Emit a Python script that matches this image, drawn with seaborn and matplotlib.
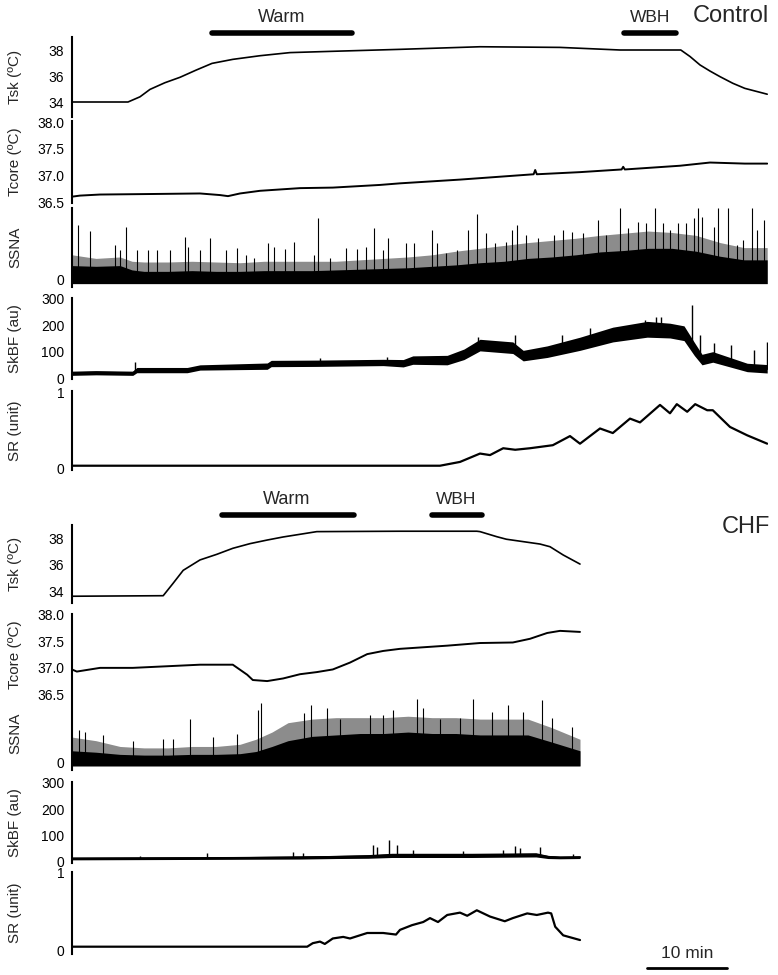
import matplotlib
matplotlib.use("Agg")
import matplotlib.pyplot as plt
import matplotlib.transforms as mtransforms
import seaborn as sns
import numpy as np

sns.set_style("white")
plt.rcParams['font.family'] = ['Liberation Sans', 'DejaVu Sans']

W, H = 778, 975
X0, X1 = 72, 768
T_END = 87.0   # minutes shown across the axis width

# ---------------- Control ----------------
ctrl_tsk_t = [0, 7, 8.5, 9.75, 11.6, 13.5, 15.5, 17.5, 20.1, 23.5, 27.25, 32.6, 41, 51, 61, 68.5,
              76.1, 77.25, 78.5, 79.75, 81, 82.6, 84.1, 86.9]
ctrl_tsk = [34.0, 34.0, 34.4, 34.97, 35.48, 35.9, 36.45, 36.97, 37.28, 37.56, 37.8, 37.9, 38.05, 38.25,
            38.2, 38.0, 38.0, 37.5, 36.85, 36.38, 35.95, 35.44, 35.05, 34.6]

ctrl_tcore_t = [0, 1, 3.5, 10, 16, 18.5, 19.5, 21, 23.5, 28.5, 32.6, 38.5, 41, 48.5, 57.7, 57.9, 58.1,
                63.5, 68.7, 68.9, 69.1, 76, 79.75, 84.1, 86.9]
ctrl_tcore = [36.6, 36.62, 36.64, 36.65, 36.66, 36.63, 36.61, 36.66, 36.71, 36.76, 36.77, 36.82, 36.85,
              36.92, 37.02, 37.1, 37.02, 37.06, 37.11, 37.16, 37.11, 37.18, 37.24, 37.22, 37.22]

ctrl_band_t = [0, 3, 6, 7.5, 9, 12, 15, 18, 21, 24, 27, 30, 33, 36, 39, 42, 45, 48, 51, 54, 57, 60,
               63, 66, 69, 72, 75, 78, 81, 84, 86.9]
ctrl_core = [20, 19, 20, 14, 12, 12, 13, 12, 12, 13, 13, 13, 14, 15, 16, 17, 19, 21, 24, 26, 30, 32,
             35, 39, 41, 44, 44, 40, 33, 28, 28]
ctrl_fringe = [35, 30, 32, 26, 25, 25, 26, 25, 24, 26, 26, 26, 26, 28, 30, 32, 35, 40, 44, 48, 52, 55,
               58, 62, 65, 68, 66, 62, 52, 45, 45]
ctrl_spk_t = [0.8, 2.3, 5.4, 6.0, 6.7, 8.1, 9.5, 10.6, 12.3, 14.1, 14.5, 16.0, 17.3, 19.3, 20.6, 21.8,
              22.7, 24.5, 25.2, 26.6, 27.8, 30.2, 30.8, 32.3, 34.2, 35.6, 36.7, 37.7, 38.9, 39.5, 41.8,
              42.7, 45.0, 45.6, 46.8, 48.1, 49.5, 50.6, 51.8, 52.9, 54.3, 55.0, 55.6, 56.8, 58.3, 60.2,
              61.4, 62.5, 63.9, 65.8, 66.8, 68.5, 69.5, 70.8, 71.8, 72.9, 73.9, 74.75, 75.8, 76.75, 77.7,
              78.3, 78.7, 80.2, 80.8, 82.0, 83.1, 83.9, 85.0, 85.6, 86.5]
ctrl_spk = [76, 68, 49, 42, 74, 42, 42, 42, 42, 60, 46, 42, 59, 42, 44, 35, 30, 52, 46, 43, 53, 35, 86,
            30, 44, 43, 46, 72, 42, 58, 51, 51, 69, 51, 37, 42, 70, 92, 65, 51, 53, 69, 76, 62, 58, 62,
            69, 67, 65, 83, 62, 100, 72, 81, 79, 100, 79, 69, 79, 79, 86, 100, 88, 74, 100, 100, 49, 56,
            100, 69, 83]

ctrl_skbf_t = [0, 3, 7.6, 8.1, 14.4, 16, 24.4, 24.9, 30.6, 38.9, 41.4, 42.6, 46.9, 49, 51, 55.1, 56.4,
               59.4, 63.5, 67.6, 71.9, 74.75, 76.5, 77.8, 78.75, 80.1, 84.4, 86.9]
ctrl_skbf = [18, 20, 18, 30, 30, 40, 45, 55, 56, 59, 56, 68, 68, 90, 125, 115, 85, 100, 130, 165, 185,
             180, 170, 110, 70, 80, 40, 35]
ctrl_skbf_hw = [8, 8, 8, 10, 10, 10, 12, 12, 12, 12, 14, 16, 18, 20, 22, 22, 20, 22, 25, 28, 30, 28, 28,
                25, 20, 20, 16, 16]
ctrl_skbf_spk_t = [7.9, 31.0, 39.4, 50.8, 55.4, 61.3, 64.8, 71.6, 73.0, 73.6, 77.5, 78.5, 80.3, 82.4,
                   85.2, 86.9]
ctrl_skbf_spk = [62, 76, 80, 157, 163, 163, 190, 220, 233, 233, 277, 163, 132, 124, 106, 138]

ctrl_sr_t = [0, 46, 48.5, 51, 52.25, 53.9, 55.4, 57.25, 60.1, 62.25, 63.5, 66, 67.6, 69.75, 71, 73.5,
             74.75, 75.6, 76.9, 77.9, 79.4, 80.1, 82.25, 84.4, 86.9]
ctrl_sr = [0.03, 0.03, 0.08, 0.19, 0.17, 0.26, 0.24, 0.26, 0.30, 0.42, 0.32, 0.52, 0.46, 0.65, 0.60,
           0.83, 0.72, 0.84, 0.74, 0.84, 0.76, 0.76, 0.54, 0.43, 0.32]

# ---------------- CHF ----------------
chf_tsk_t = [0, 11.4, 12.6, 13.9, 16, 18.1, 20.1, 22.25, 24.4, 26.4, 28.5, 30.6, 41, 50.6, 51, 53.1,
             54.3, 58.5, 59.75, 61.4, 63.5]
chf_tsk = [33.66, 33.7, 34.6, 35.6, 36.38, 36.8, 37.25, 37.6, 37.87, 38.1, 38.3, 38.5, 38.53, 38.53,
           38.5, 38.12, 37.93, 37.57, 37.37, 36.75, 36.07]

chf_tcore_t = [0, 0.6, 3.5, 7.6, 16, 20.1, 21.9, 22.6, 24.4, 26.4, 28.5, 30.6, 32.6, 34.75, 36.9, 38.9,
               41, 46.9, 51, 55.1, 57.25, 59.4, 61, 63.5]
chf_tcore = [36.97, 36.93, 37.0, 37.0, 37.06, 37.06, 36.87, 36.77, 36.75, 36.8, 36.88, 36.92, 36.97,
             37.1, 37.26, 37.32, 37.36, 37.42, 37.47, 37.48, 37.55, 37.66, 37.7, 37.68]

chf_band_t = [0, 3, 6, 9, 12, 15, 18, 21, 23, 25, 27, 30, 33, 36, 39, 42, 45, 48, 51, 54, 57, 60, 63.5]
chf_core = [16, 14, 11, 10, 10, 11, 11, 12, 15, 22, 30, 36, 38, 40, 40, 42, 40, 40, 38, 38, 38, 28, 16]
chf_fringe = [35, 30, 22, 20, 20, 22, 22, 25, 32, 42, 55, 60, 62, 62, 62, 64, 62, 62, 60, 60, 60, 48, 32]
chf_spk_t = [0.9, 1.6, 3.9, 7.6, 11.4, 12.6, 14.8, 17.6, 20.6, 23.25, 23.6, 29.0, 29.9, 31.9, 33.5,
             37.25, 38.9, 40.1, 43.1, 43.9, 46.0, 48.5, 50.1, 52.5, 54.5, 56.4, 58.75, 60.0, 62.5]
chf_spk = [45, 42, 38, 30, 32, 32, 60, 35, 40, 72, 82, 68, 79, 76, 60, 66, 66, 72, 88, 75, 60, 62, 88,
           70, 79, 70, 86, 62, 49]

chf_skbf_t = [0, 10, 20, 28.5, 33, 37, 40, 50, 58, 59.5, 61, 63.5]
chf_skbf = [12, 13, 14, 16, 18, 20, 24, 24, 26, 18, 16, 17]
chf_skbf_hw = [5, 5, 5, 6, 6, 7, 8, 8, 8, 6, 5, 5]
chf_skbf_spk_t = [8.5, 16.9, 27.6, 28.9, 37.6, 38.1, 39.6, 40.6, 42.6, 48.9, 53.9, 55.4, 56.0, 58.5, 62.6]
chf_skbf_spk = [22, 33, 35, 33, 63, 55, 82, 64, 45, 40, 45, 58, 52, 54, 30]

chf_sr_t = [0, 29.4, 30.1, 31, 31.6, 32.6, 33.9, 34.75, 36.9, 38.9, 40.5, 41, 42.5, 43.9, 44.75, 45.75,
            46.9, 48.5, 49.4, 50.6, 52.25, 54.1, 55.1, 56.9, 58.1, 59.5, 59.9, 60.4, 61.4, 63.5]
chf_sr = [0.055, 0.055, 0.10, 0.12, 0.09, 0.16, 0.18, 0.16, 0.23, 0.23, 0.21, 0.27, 0.33, 0.37, 0.42,
          0.37, 0.46, 0.49, 0.45, 0.52, 0.44, 0.38, 0.42, 0.48, 0.46, 0.49, 0.48, 0.31, 0.20, 0.14]

# protocol bars (min)
ctrl_warm = [17.5, 35.0]
ctrl_wbh = [69.0, 75.5]
chf_warm = [18.7, 35.2]
chf_wbh = [45.0, 51.2]
scale_bar = [71.9, 81.9]

fig = plt.figure(figsize=(W / 100, H / 100), dpi=100)


def make_ax(top, bottom, v1, p1, v2, p2, ticks, fmt, label):
    ax = fig.add_axes([X0 / W, 1 - bottom / H, (X1 - X0) / W, (bottom - top) / H])
    s = (v2 - v1) / (p1 - p2)
    ax.set_ylim(v1 - (bottom - p1) * s, v1 + (p1 - top) * s)
    ax.set_xlim(0, T_END)
    for side in ["top", "right", "bottom"]:
        ax.spines[side].set_visible(False)
    ax.spines["left"].set_linewidth(1.5)
    ax.spines["left"].set_color("k")
    ax.set_xticks([])
    ax.set_yticks(ticks)
    ax.set_yticklabels([fmt % v for v in ticks])
    ax.tick_params(axis="y", direction="out", length=4, width=1.3, labelsize=10, pad=1.5, colors="k")
    ax.set_ylabel(label, fontsize=11, va="center")
    ax.yaxis.set_label_coords((15 - X0) / (X1 - X0), 0.5)
    ax.patch.set_alpha(0)
    return ax


def line(ax, t, v, lw=1.2):
    sns.lineplot(x=t, y=v, ax=ax, color="k", lw=lw, estimator=None, sort=False)


def ssna(ax, bt, core, fringe, st, sh):
    ax.fill_between(bt, -5, fringe, color="0.55", lw=0)
    ax.fill_between(bt, -5, core, color="k", lw=0)
    ax.vlines(st, 0, sh, color="k", lw=0.8)


def skbf(ax, t, v, hw, st, sh):
    v = np.array(v, dtype=float)
    hw = np.array(hw, dtype=float)
    ax.fill_between(t, v - hw, v + hw, color="k", lw=0)
    line(ax, t, v, lw=1.5)
    ax.vlines(st, np.interp(st, t, v), sh, color="k", lw=1.0)


def bar(ax, span, ypix, lw=4):
    tr = mtransforms.blended_transform_factory(ax.transData, fig.transFigure)
    ax.plot(span, [1 - ypix / H] * 2, color="k", lw=lw, transform=tr, clip_on=False,
            solid_capstyle="round")


def ftext(x, y, s, size, ha="center"):
    fig.text(x / W, 1 - y / H, s, fontsize=size, ha=ha, va="center")


# ---- control panels ----
a = make_ax(37, 117, 38, 50, 34, 102, [34, 36, 38], "%d", "Tsk (ºC)")
line(a, ctrl_tsk_t, ctrl_tsk)
bar(a, ctrl_warm, 33)
bar(a, ctrl_wbh, 33)
ftext(282, 18, "Warm", 13)
ftext(650, 17, "WBH", 12.5)
ftext(693, 16, "Control", 17, ha="left")

a = make_ax(121, 203, 38.0, 122, 36.5, 202, [36.5, 37.0, 37.5, 38.0], "%.1f", "Tcore (ºC)")
line(a, ctrl_tcore_t, ctrl_tcore, lw=1.4)

a = make_ax(208, 287, 0, 280, 100, 208, [0], "%d", "SSNA")
ssna(a, ctrl_band_t, ctrl_core, ctrl_fringe, ctrl_spk_t, ctrl_spk)

a = make_ax(298, 379, 300, 299, 0, 378, [0, 100, 200, 300], "%d", "SkBF (au)")
skbf(a, ctrl_skbf_t, ctrl_skbf, ctrl_skbf_hw, ctrl_skbf_spk_t, ctrl_skbf_spk)

a = make_ax(391, 470, 1, 392, 0, 468, [0, 1], "%d", "SR (unit)")
line(a, ctrl_sr_t, ctrl_sr, lw=1.6)

# ---- CHF panels ----
a = make_ax(525, 603, 38, 538.3, 34, 591.7, [34, 36, 38], "%d", "Tsk (ºC)")
line(a, chf_tsk_t, chf_tsk)
bar(a, chf_warm, 515)
bar(a, chf_wbh, 515)
ftext(287, 500, "Warm", 13)
ftext(456, 499, "WBH", 12.5)
ftext(722, 527, "CHF", 17, ha="left")

a = make_ax(614, 695, 38.0, 615, 36.5, 694.3, [36.5, 37.0, 37.5, 38.0], "%.1f", "Tcore (ºC)")
line(a, chf_tcore_t, chf_tcore, lw=1.4)

a = make_ax(697, 770, 0, 762.3, 100, 690.3, [0], "%d", "SSNA")
ssna(a, chf_band_t, chf_core, chf_fringe, chf_spk_t, chf_spk)

a = make_ax(782, 863, 300, 782.7, 0, 861.7, [0, 100, 200, 300], "%d", "SkBF (au)")
skbf(a, chf_skbf_t, chf_skbf, chf_skbf_hw, chf_skbf_spk_t, chf_skbf_spk)

a = make_ax(872, 954, 1, 872.7, 0, 951, [0, 1], "%d", "SR (unit)")
line(a, chf_sr_t, chf_sr, lw=1.6)
bar(a, scale_bar, 968, lw=2)
ftext(687, 953, "10 min", 12.5)

fig.savefig("out.png", dpi=100)
